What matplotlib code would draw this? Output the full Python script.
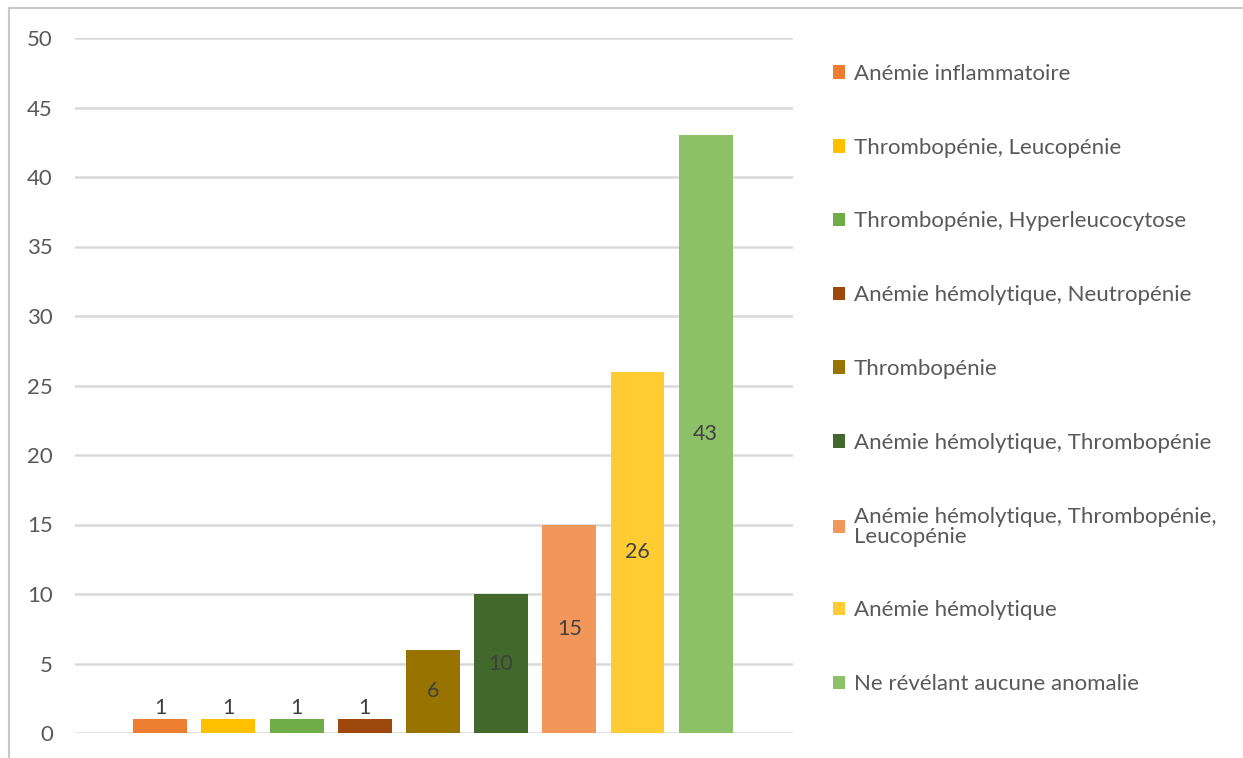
import matplotlib.pyplot as plt
from matplotlib.lines import Line2D

# data
categories = [
    "Anémie inflammatoire",
    "Thrombopénie, Leucopénie",
    "Thrombopénie, Hyperleucocytose",
    "Anémie hémolytique, Neutropénie",
    "Thrombopénie",
    "Anémie hémolytique, Thrombopénie",
    "Anémie hémolytique, Thrombopénie,\nLeucopénie",
    "Anémie hémolytique",
    "Ne révélant aucune anomalie",
]
counts = [1, 1, 1, 1, 6, 10, 15, 26, 43]
colors = ["#ED7D31", "#FFC000", "#70AD47", "#9E480E", "#997300",
          "#43682B", "#F1975A", "#FFCD33", "#8CC168"]
yticks = [0, 5, 10, 15, 20, 25, 30, 35, 40, 45, 50]

plt.rcParams['font.family'] = ['Lato', 'DejaVu Sans']
text_col = "#595959"
grid_col = "#D9D9D9"

fig = plt.figure(figsize=(12.43, 7.58), dpi=100)
ax = fig.add_axes([75 / 1243, 1 - 733 / 758, (793 - 75) / 1243, (733 - 38) / 758])

x = list(range(len(counts)))
bars = ax.bar(x, counts, width=0.79, color=colors, zorder=3)

# data labels: small bars get the label on top, others centred
for rect, v in zip(bars.patches, counts):
    cx = rect.get_x() + rect.get_width() / 2
    if v <= 1:
        ax.annotate(str(v), (cx, v), xytext=(0, 1), textcoords="offset points",
                    ha="center", va="bottom", fontsize=15.5, color="#404040")
    else:
        ax.text(cx, v / 2, str(v), ha="center", va="center",
                fontsize=15.5, color="#404040", zorder=4)

ax.set_xlim(-1.25, 9.28)
ax.set_ylim(0, 50)
ax.set_yticks(yticks)
ax.set_xticks([])
ax.yaxis.grid(True, color=grid_col, linewidth=1.8, zorder=0)
ax.tick_params(axis="y", length=0, pad=16, labelsize=16, labelcolor=text_col)
for s in ax.spines.values():
    s.set_visible(False)

leg = fig.legend(bars.patches, categories, loc="upper left",
                 bbox_to_anchor=(824 / 1243, 1 - 55 / 758),
                 frameon=False, fontsize=16, labelcolor=text_col,
                 handlelength=0.55, handleheight=0.55, handletextpad=0.4,
                 labelspacing=2.42, borderaxespad=0)
for t in leg.get_texts():
    t.set_linespacing(1.0)

# screenshot frame (top and left edges only)
fig.add_artist(Line2D([9 / 1243, 1], [1 - 8 / 758, 1 - 8 / 758],
                      color="#C8C8C8", linewidth=1.5, transform=fig.transFigure))
fig.add_artist(Line2D([9 / 1243, 9 / 1243], [0, 1 - 8 / 758],
                      color="#C8C8C8", linewidth=1.5, transform=fig.transFigure))

fig.savefig("out.png", dpi=100)
